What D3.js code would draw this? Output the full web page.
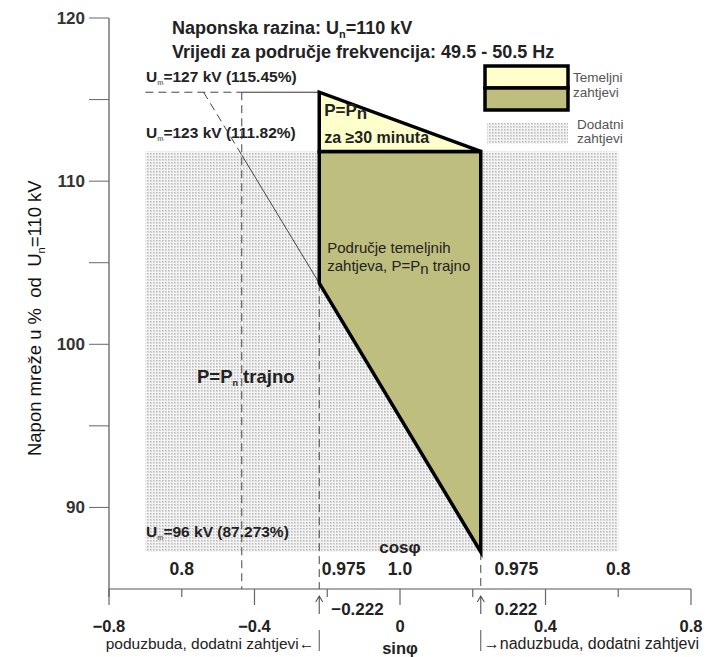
<!DOCTYPE html>
<html><head><meta charset="utf-8">
<script src="https://cdn.jsdelivr.net/npm/d3@7"></script>
<style>
html,body{margin:0;padding:0;background:#fff;}
svg{display:block;font-family:Arial,"Liberation Sans",sans-serif;}
text{white-space:pre;}
</style></head>
<body><svg id="c" width="708" height="657"></svg>
<script>
// ---- data ----
const yTicks = [90, 95, 100, 105, 110, 115, 120];
const yTickLabels = [90, 100, 110, 120];
const sinTicks = [-0.8, -0.6, -0.4, -0.2, 0, 0.2, 0.4, 0.6, 0.8];
const sinMajor = [-0.8, -0.4, 0, 0.4, 0.8];
const cosLabels = ["0.8", "0.975", "1.0", "0.975", "0.8"];
const cosLabelSin = [-0.6, -0.155, 0, 0.32, 0.6];
const sinLimit = [-0.222, 0.222];
const sinCos09 = -0.435;
const umLevels = [115.45, 111.82, 87.273];
const umLabels = ["=127 kV (115.45%)", "=123 kV (111.82%)", "=96 kV (87.273%)"];
const extraRegion = [[-0.7, 111.82], [0.6, 87.273]];
const basePoly = [[-0.222, 111.82], [0.222, 111.82], [0.222, 87.273], [-0.222, 103.75]];
const timePoly = [[-0.222, 115.45], [-0.222, 111.82], [0.222, 111.82]];
const diagLine = [[-0.54, 115.45], [-0.435, 111.6], [-0.222, 103.75]];

const svg = d3.select("#c");
const x = d3.scaleLinear().domain([-0.8, 0.8]).range([109, 691]);
const y = d3.scaleLinear().domain([85, 120]).range([589, 18]);

const defs = svg.append("defs");
const pat = defs.append("pattern").attr("id", "dots").attr("patternUnits", "userSpaceOnUse")
  .attr("width", 3).attr("height", 3);
pat.append("rect").attr("width", 3).attr("height", 3).attr("fill", "#f4f4f4");
pat.append("rect").attr("width", 2).attr("height", 2).attr("fill", "#d8d8d8");
pat.append("rect").attr("width", 1).attr("height", 1).attr("fill", "#b8b8b8");

const OLIVE = "#bebe7e", YEL = "#ffffcc";
const TXT = "#222";

// additional requirements region
svg.append("rect")
  .attr("x", x(extraRegion[0][0])).attr("y", y(extraRegion[0][1]))
  .attr("width", x(extraRegion[1][0]) - x(extraRegion[0][0]))
  .attr("height", y(extraRegion[1][1]) - y(extraRegion[0][1]))
  .attr("fill", "url(#dots)");

// dashed guide lines
const dash = "8,5";
svg.append("line").attr("x1", x(sinCos09)).attr("x2", x(sinCos09))
  .attr("y1", y(umLevels[0])).attr("y2", y(85)).attr("stroke", "#444").attr("stroke-dasharray", dash);
svg.append("line").attr("x1", x(sinLimit[0])).attr("x2", x(sinLimit[0]))
  .attr("y1", y(basePoly[3][1])).attr("y2", y(85)).attr("stroke", "#444").attr("stroke-dasharray", dash);
svg.append("line").attr("x1", x(sinLimit[1])).attr("x2", x(sinLimit[1]))
  .attr("y1", y(umLevels[2])).attr("y2", y(85)).attr("stroke", "#444").attr("stroke-dasharray", dash);
svg.append("line").attr("x1", x(-0.7)).attr("x2", x(sinCos09))
  .attr("y1", y(umLevels[0])).attr("y2", y(umLevels[0])).attr("stroke", "#444").attr("stroke-dasharray", dash);
svg.append("line").attr("x1", x(sinCos09)).attr("x2", x(sinLimit[0]))
  .attr("y1", y(umLevels[0])).attr("y2", y(umLevels[0])).attr("stroke", "#333");
svg.append("line").attr("x1", x(diagLine[0][0])).attr("y1", y(diagLine[0][1]))
  .attr("x2", x(diagLine[1][0])).attr("y2", y(diagLine[1][1])).attr("stroke", "#444").attr("stroke-dasharray", dash);
svg.append("line").attr("x1", x(diagLine[1][0])).attr("y1", y(diagLine[1][1]))
  .attr("x2", x(diagLine[2][0])).attr("y2", y(diagLine[2][1])).attr("stroke", "#444");

// polygons
const line = d3.line().x(d => x(d[0])).y(d => y(d[1]));
svg.append("path").attr("d", line(basePoly) + "Z").attr("fill", OLIVE)
  .attr("stroke", "#000").attr("stroke-width", 3.5).attr("stroke-linejoin", "miter");
svg.append("path").attr("d", line(timePoly) + "Z").attr("fill", YEL)
  .attr("stroke", "#000").attr("stroke-width", 3.5).attr("stroke-linejoin", "miter");

// axes
svg.append("line").attr("x1", x(-0.8)).attr("x2", x(-0.8)).attr("y1", y(120)).attr("y2", y(85) + 8)
  .attr("stroke", "#555").attr("stroke-width", 1.2);
svg.append("line").attr("x1", x(-0.8)).attr("x2", x(0.8)).attr("y1", y(85)).attr("y2", y(85))
  .attr("stroke", "#555").attr("stroke-width", 1.2);
svg.selectAll(".yt").data(yTicks).join("line")
  .attr("x1", x(-0.8) - 20).attr("x2", x(-0.8)).attr("y1", d => y(d)).attr("y2", d => y(d))
  .attr("stroke", "#666").attr("stroke-width", 1);
svg.selectAll(".ytl").data(yTickLabels).join("text")
  .attr("x", x(-0.8) - 24).attr("y", d => y(d) + 6).attr("text-anchor", "end")
  .attr("font-size", 17).attr("font-weight", "bold").attr("fill", "#333").text(d => d);
svg.selectAll(".xt").data(sinTicks).join("line")
  .attr("x1", d => x(d)).attr("x2", d => x(d)).attr("y1", y(85))
  .attr("y2", d => y(85) + (sinMajor.includes(d) ? 16 : 8))
  .attr("stroke", "#666").attr("stroke-width", 1.2);
svg.selectAll(".xtl").data(sinMajor).join("text")
  .attr("x", d => x(d)).attr("y", 632).attr("text-anchor", "middle")
  .attr("font-size", 16.5).attr("font-weight", "bold").attr("fill", TXT)
  .text(d => d === 0 ? "0" : d3.format(".1f")(d));

// cos row
svg.selectAll(".cl").data(cosLabels).join("text")
  .attr("x", (d, i) => x(cosLabelSin[i])).attr("y", 575).attr("text-anchor", "middle")
  .attr("font-size", 17.5).attr("font-weight", "bold").attr("fill", TXT).text(d => d);
svg.append("text").attr("x", x(0)).attr("y", 553).attr("text-anchor", "middle")
  .attr("font-size", 17).attr("font-weight", "bold").attr("fill", TXT).text("cosφ");

// sin limit markers below axis
sinLimit.forEach((s, i) => {
  const xs = x(s);
  svg.append("path").attr("d", `M${xs},614V596M${xs - 3.5},602L${xs},596L${xs + 3.5},602`)
    .attr("fill", "none").attr("stroke", "#555").attr("stroke-width", 1.1);
  svg.append("text").attr("x", xs + (i === 0 ? 12 : 14)).attr("y", 615)
    .attr("font-size", 17).attr("font-weight", "bold").attr("fill", TXT).text(d3.format(".3f")(s));
  svg.append("line").attr("x1", xs).attr("x2", xs).attr("y1", 630).attr("y2", 651)
    .attr("stroke", "#555");
});
svg.append("text").attr("x", x(sinLimit[0]) - 5).attr("y", 649).attr("text-anchor", "end")
  .attr("font-size", 15.5).attr("fill", TXT).text("poduzbuda, dodatni zahtjevi←");
svg.append("text").attr("x", x(sinLimit[1]) + 3).attr("y", 649).attr("text-anchor", "start")
  .attr("font-size", 16).attr("fill", TXT).text("→naduzbuda, dodatni zahtjevi");
svg.append("text").attr("x", x(0)).attr("y", 654).attr("text-anchor", "middle")
  .attr("font-size", 16.5).attr("font-weight", "bold").attr("fill", TXT).text("sinφ");

// y label
const yl = svg.append("text").attr("transform", `translate(41,${y(101.6)}) rotate(-90)`)
  .attr("text-anchor", "middle").attr("font-size", 18.5).attr("fill", "#111");
yl.append("tspan").text("Napon mreže u %  od  U");
yl.append("tspan").attr("font-size", 11).attr("dy", 4).text("n");
yl.append("tspan").attr("dy", -4).text("=110 kV");

// titles
const t1 = svg.append("text").attr("x", 172).attr("y", 34).attr("font-size", 18).attr("font-weight", "bold").attr("fill", TXT);
t1.append("tspan").text("Naponska razina: U");
t1.append("tspan").attr("font-size", 11).attr("dy", 4).text("n");
t1.append("tspan").attr("dy", -4).text("=110 kV");
svg.append("text").attr("x", 172).attr("y", 58).attr("font-size", 18).attr("font-weight", "bold").attr("fill", TXT)
  .text("Vrijedi za područje frekvencija: 49.5 - 50.5 Hz");

// Um labels
const umY = [82, 138, 537];
umLabels.forEach((lab, i) => {
  const t = svg.append("text").attr("x", 146).attr("y", umY[i]).attr("font-size", 15.5)
    .attr("font-weight", "bold").attr("fill", TXT);
  t.append("tspan").text("U");
  t.append("tspan").attr("font-size", 7).attr("dy", 3).attr("fill", "#777").text("m");
  t.append("tspan").attr("dy", -3).text(lab);
});

// polygon texts
const p1 = svg.append("text").attr("x", x(sinLimit[0]) + 5).attr("y", 116).attr("font-size", 17)
  .attr("font-weight", "bold").attr("fill", TXT);
p1.append("tspan").text("P=P");
p1.append("tspan").attr("dy", 3).text("n");
svg.append("text").attr("x", x(sinLimit[0]) + 5).attr("y", 143).attr("font-size", 16)
  .attr("font-weight", "bold").attr("fill", TXT).text("za ≥30 minuta");
svg.append("text").attr("x", x(sinLimit[0]) + 8).attr("y", 253).attr("font-size", 15)
  .attr("fill", TXT).text("Područje temeljnih");
const p2 = svg.append("text").attr("x", x(sinLimit[0]) + 8).attr("y", 271).attr("font-size", 15).attr("fill", TXT);
p2.append("tspan").text("zahtjeva, P=P");
p2.append("tspan").attr("dy", 3).text("n");
p2.append("tspan").attr("dy", -3).text(" trajno");
const p3 = svg.append("text").attr("x", 197).attr("y", 383).attr("font-size", 18.5)
  .attr("font-weight", "bold").attr("fill", TXT);
p3.append("tspan").text("P=P");
p3.append("tspan").attr("font-size", 9).attr("dy", 3).text("n");
p3.append("tspan").attr("dy", -3).text(" trajno");

// legend
const lg = svg.append("g");
lg.append("rect").attr("x", 485).attr("y", 66).attr("width", 83).attr("height", 22).attr("fill", YEL)
  .attr("stroke", "#000").attr("stroke-width", 3.5);
lg.append("rect").attr("x", 485).attr("y", 88).attr("width", 83).attr("height", 22).attr("fill", OLIVE)
  .attr("stroke", "#000").attr("stroke-width", 3.5);
lg.append("text").attr("x", 573).attr("y", 82).attr("font-size", 13.5).attr("fill", "#555").text("Temeljni");
lg.append("text").attr("x", 573).attr("y", 97).attr("font-size", 13.5).attr("fill", "#555").text("zahtjevi");
lg.append("rect").attr("x", 487).attr("y", 123).attr("width", 81).attr("height", 21).attr("fill", "url(#dots)");
lg.append("text").attr("x", 577).attr("y", 129).attr("font-size", 13.5).attr("fill", "#555").text("Dodatni");
lg.append("text").attr("x", 577).attr("y", 143).attr("font-size", 13.5).attr("fill", "#555").text("zahtjevi");
</script></body></html>
